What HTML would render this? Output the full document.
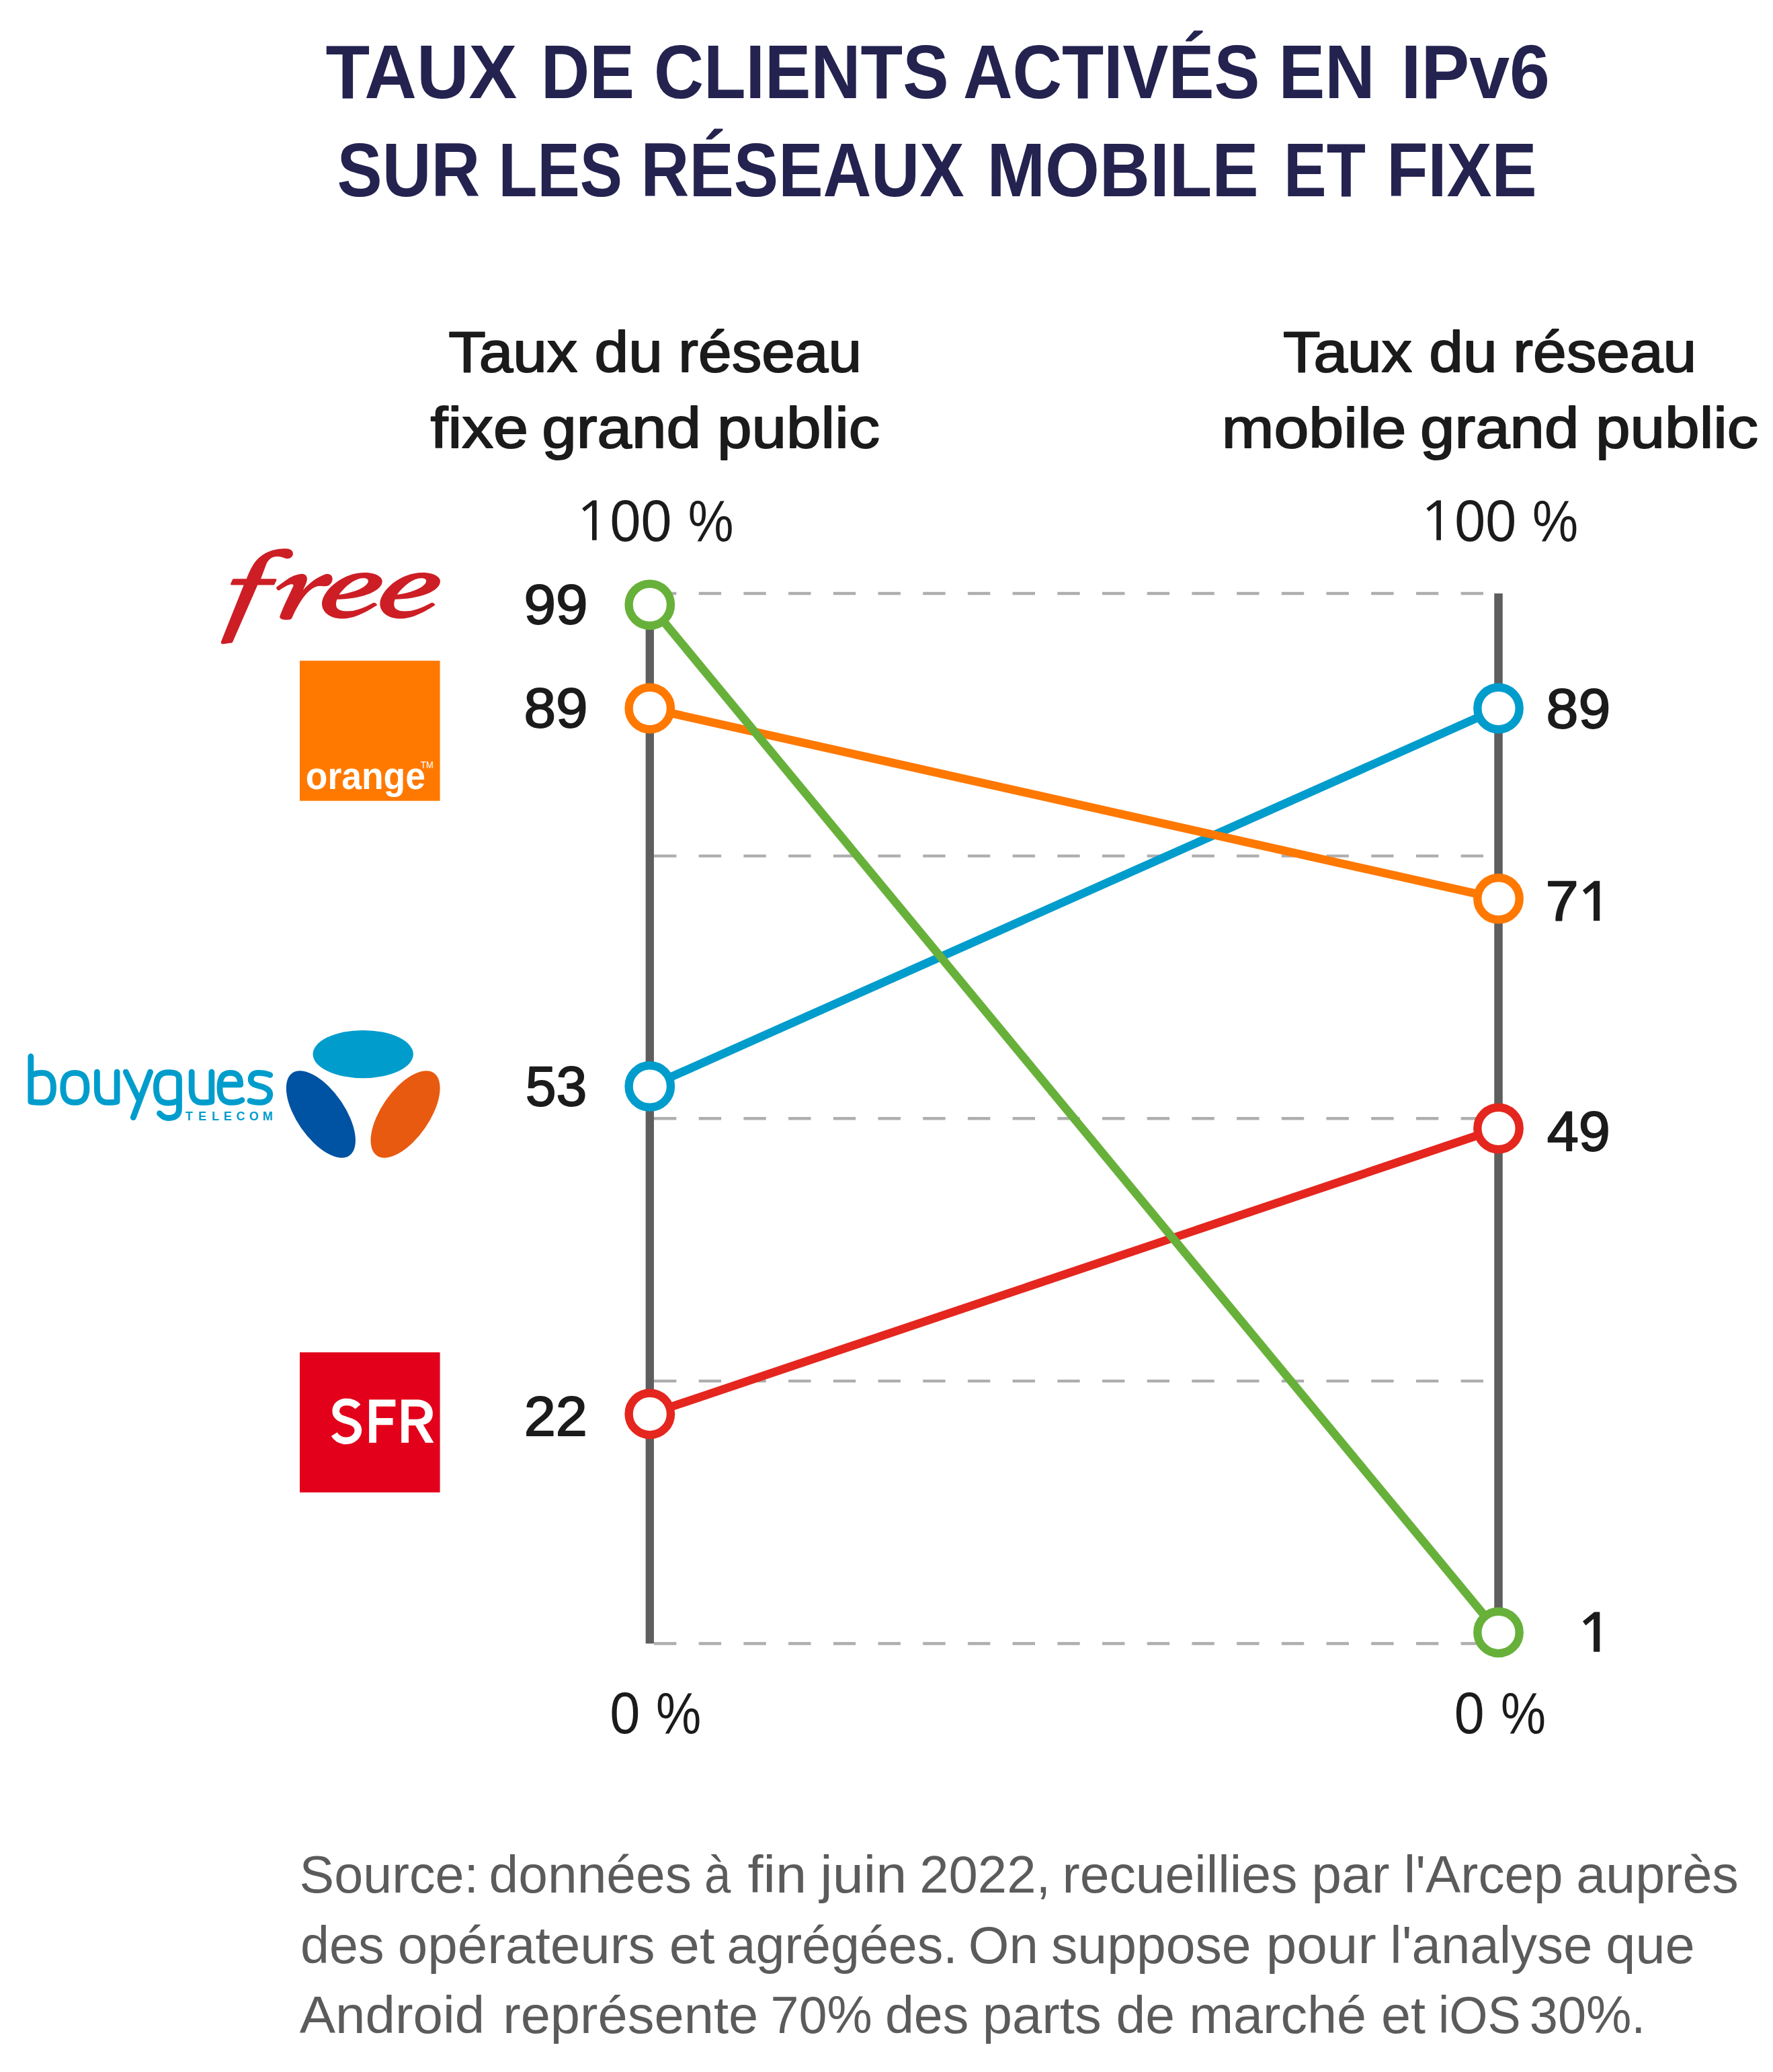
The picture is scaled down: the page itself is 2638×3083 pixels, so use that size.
<!DOCTYPE html>
<html><head><meta charset="utf-8"><style>
html,body{margin:0;padding:0;background:#fff;width:2638px;height:3083px;overflow:hidden;}
svg{display:block;font-family:"Liberation Sans",sans-serif;}
</style></head><body>
<svg width="2638" height="3083" viewBox="0 0 2638 3083">
<rect width="2638" height="3083" fill="#fff"/>
<line x1="973" y1="883.00" x2="2207" y2="883.00" stroke="#aeaeae" stroke-width="4.4" stroke-dasharray="33.4 33.3"/><line x1="973" y1="1273.62" x2="2207" y2="1273.62" stroke="#aeaeae" stroke-width="4.4" stroke-dasharray="33.4 33.3"/><line x1="973" y1="1664.25" x2="2207" y2="1664.25" stroke="#aeaeae" stroke-width="4.4" stroke-dasharray="33.4 33.3"/><line x1="973" y1="2054.88" x2="2207" y2="2054.88" stroke="#aeaeae" stroke-width="4.4" stroke-dasharray="33.4 33.3"/><line x1="973" y1="2445.50" x2="2207" y2="2445.50" stroke="#aeaeae" stroke-width="4.4" stroke-dasharray="33.4 33.3"/><line x1="966.8" y1="899.8" x2="966.8" y2="2445.50" stroke="#5e5e5e" stroke-width="12.3"/><line x1="2229.5" y1="883.00" x2="2229.5" y2="2445.50" stroke="#5e5e5e" stroke-width="12.5"/><line x1="966.8" y1="1616.45" x2="2229.5" y2="1054.00" stroke="#009ccc" stroke-width="12.5"/><line x1="966.8" y1="1054.00" x2="2229.5" y2="1337.20" stroke="#ff7800" stroke-width="12.5"/><line x1="966.8" y1="2103.90" x2="2229.5" y2="1679.00" stroke="#e4261e" stroke-width="12.5"/><line x1="966.8" y1="899.80" x2="2229.5" y2="2428.90" stroke="#67b13b" stroke-width="12.5"/><circle cx="966.8" cy="1616.45" r="31.2" fill="#fff" stroke="#009ccc" stroke-width="12.4"/><circle cx="2229.5" cy="1054.00" r="31.2" fill="#fff" stroke="#009ccc" stroke-width="12.4"/><circle cx="966.8" cy="1054.00" r="31.2" fill="#fff" stroke="#ff7800" stroke-width="12.4"/><circle cx="2229.5" cy="1337.20" r="31.2" fill="#fff" stroke="#ff7800" stroke-width="12.4"/><circle cx="966.8" cy="2103.90" r="31.2" fill="#fff" stroke="#e4261e" stroke-width="12.4"/><circle cx="2229.5" cy="1679.00" r="31.2" fill="#fff" stroke="#e4261e" stroke-width="12.4"/><circle cx="966.8" cy="899.80" r="31.2" fill="#fff" stroke="#67b13b" stroke-width="12.4"/><circle cx="2229.5" cy="2428.90" r="31.2" fill="#fff" stroke="#67b13b" stroke-width="12.4"/>
<rect x="446" y="983.1" width="208.6" height="208.5" fill="#ff7900"/><rect x="446" y="2012.2" width="208.6" height="208.4" fill="#e2001a"/><path transform="translate(320,810) scale(0.074811)" d="M120,1935 L570,810 L330,810 C310,810 305,790 312,775 L345,705 C352,690 362,685 375,685 L625,685 C700,500 780,330 900,245 C1030,140 1200,85 1400,85 C1500,85 1550,130 1550,185 C1550,240 1500,285 1440,285 C1390,285 1330,240 1240,240 C1130,240 1060,300 1020,390 L910,685 L1205,685 C1220,685 1225,700 1220,715 L1180,800 C1175,808 1170,810 1160,810 L845,810 L350,1940 C340,1955 330,1958 300,1962 L165,1982 C125,1985 110,1960 120,1935 Z" fill="#cd1e25"/><path transform="translate(405,845) scale(0.056402)" d="M110,510 C300,370 470,230 620,190 C700,165 780,155 830,165 C890,180 920,230 920,290 C920,370 880,440 815,585 C1000,380 1200,240 1400,170 C1500,140 1590,190 1590,290 C1590,400 1500,485 1410,485 C1340,485 1290,470 1220,480 C1000,520 780,760 520,1320 C500,1360 450,1370 350,1370 C250,1365 180,1330 205,1265 C300,1000 450,720 560,470 C565,440 530,425 480,435 C380,460 260,540 185,595 C150,600 105,560 110,510 Z" fill="#cd1e25"/><path transform="translate(470,845) scale(0.056402)" d="M1610,985 C1400,1120 1050,1340 700,1340 C350,1340 160,1150 160,950 C160,600 700,125 1280,125 C1600,125 1750,250 1750,350 C1750,620 1200,820 560,830 C525,900 520,1000 560,1060 C620,1140 760,1145 880,1140 C1100,1130 1300,1030 1515,920 C1540,910 1560,920 1580,935 L1600,955 C1615,970 1615,980 1610,985 Z M610,705 C800,450 1050,270 1250,270 C1350,270 1385,310 1380,350 C1370,500 1000,660 610,705 Z" fill="#cd1e25" fill-rule="evenodd"/><path transform="translate(556.3,845) scale(0.056402)" d="M1610,985 C1400,1120 1050,1340 700,1340 C350,1340 160,1150 160,950 C160,600 700,125 1280,125 C1600,125 1750,250 1750,350 C1750,620 1200,820 560,830 C525,900 520,1000 560,1060 C620,1140 760,1145 880,1140 C1100,1130 1300,1030 1515,920 C1540,910 1560,920 1580,935 L1600,955 C1615,970 1615,980 1610,985 Z M610,705 C800,450 1050,270 1250,270 C1350,270 1385,310 1380,350 C1370,500 1000,660 610,705 Z" fill="#cd1e25" fill-rule="evenodd"/><ellipse cx="540.2" cy="1568.6" rx="74.7" ry="35.7" fill="#009dcc"/><ellipse cx="0" cy="0" rx="74.6" ry="35.7" transform="translate(477.4,1658) rotate(55.4)" fill="#0052a3"/><ellipse cx="0" cy="0" rx="74.6" ry="35.7" transform="translate(603.1,1658) rotate(-55.4)" fill="#e85a10"/><path transform="translate(30,1550) scale(0.219974)" d="M72,100 V405 M72,232 C95,215 125,211 150,211 C205,211 225,255 225,311 C225,370 205,411 150,411 C115,411 85,408 72,405 M370,211 C310,211 290,245 290,311 C290,377 310,411 370,411 C430,411 450,377 450,311 C450,245 430,211 370,211 Z M520,205 V320 C520,385 545,411 595,411 C625,411 645,408 655,405 M655,205 V405 M715,205 L805,395 M880,205 L765,512 M1075,390 C1060,405 1030,414 1000,414 C945,414 920,380 920,310 C920,250 940,208 1000,208 C1040,208 1075,212 1075,250 V450 C1075,495 1050,516 1000,516 C975,516 960,505 943,485 M1160,205 V320 C1160,385 1185,411 1235,411 C1265,411 1285,408 1295,405 M1295,205 V405 M1352,290 H1490 C1490,235 1465,211 1420,211 C1370,211 1350,245 1350,311 C1350,377 1370,411 1430,411 C1460,411 1485,405 1500,395 M1690,225 C1660,213 1640,211 1610,211 C1575,211 1560,230 1560,255 C1560,280 1580,290 1620,300 C1670,312 1690,330 1690,355 C1690,390 1665,411 1620,411 C1595,411 1575,408 1555,400" fill="none" stroke="#009dcc" stroke-width="40" stroke-linecap="round" stroke-linejoin="round"/><g transform="translate(430,2000) scale(0.135364)"><path d="M880,610 H1170 V685 H960 V813 H1142 V888 H960 V1085 H880 Z" fill="#fff"/><path d="M1235,610 H1400 C1510,610 1580,670 1580,760 C1580,830 1540,875 1475,885 L1592,1085 H1500 L1390,893 H1315 V1085 H1235 Z M1315,685 H1405 C1460,685 1495,710 1495,755 C1495,800 1460,825 1405,825 H1315 Z" fill="#fff" fill-rule="evenodd"/><path d="M757,688 C720,645 680,635 630,635 C560,635 515,680 515,735 C515,800 570,820 640,840 C720,862 760,890 760,945 C760,1010 700,1062 630,1062 C570,1062 525,1035 497,990" fill="none" stroke="#fff" stroke-width="78"/></g>
<text transform="translate(484.62,146.00) scale(0.9538,1)" font-weight="bold" font-size="112.75" fill="#24224f">TAUX</text><text transform="translate(805.03,146.00) scale(0.8859,1)" font-weight="bold" font-size="112.75" fill="#24224f">DE</text><text transform="translate(972.92,146.00) scale(0.9096,1)" font-weight="bold" font-size="112.75" fill="#24224f">CLIENTS</text><text transform="translate(1432.90,146.00) scale(0.9035,1)" font-weight="bold" font-size="112.75" fill="#24224f">ACTIVÉS</text><text transform="translate(1902.45,146.00) scale(0.9143,1)" font-weight="bold" font-size="112.75" fill="#24224f">EN</text><text transform="translate(2084.49,146.00) scale(0.9545,1)" font-weight="bold" font-size="112.75" fill="#24224f">IPv6</text><text transform="translate(501.48,291.80) scale(0.8935,1)" font-weight="bold" font-size="112.75" fill="#24224f">SUR</text><text transform="translate(741.48,291.80) scale(0.8411,1)" font-weight="bold" font-size="112.75" fill="#24224f">LES</text><text transform="translate(953.57,291.80) scale(0.8825,1)" font-weight="bold" font-size="112.75" fill="#24224f">RÉSEAUX</text><text transform="translate(1468.43,291.80) scale(0.9219,1)" font-weight="bold" font-size="112.75" fill="#24224f">MOBILE</text><text transform="translate(1910.01,291.80) scale(0.8462,1)" font-weight="bold" font-size="112.75" fill="#24224f">ET</text><text transform="translate(2063.19,291.80) scale(0.8918,1)" font-weight="bold" font-size="112.75" fill="#24224f">FIXE</text><text transform="translate(667.23,553.15) scale(1.0782,1)" font-weight="normal" font-size="84.35" fill="#1b1b1b" stroke="#1b1b1b" stroke-width="1.9" stroke-linejoin="round">Taux</text><text transform="translate(884.45,553.15) scale(1.0807,1)" font-weight="normal" font-size="84.35" fill="#1b1b1b" stroke="#1b1b1b" stroke-width="1.9" stroke-linejoin="round">du</text><text transform="translate(1009.35,553.15) scale(1.0575,1)" font-weight="normal" font-size="84.35" fill="#1b1b1b" stroke="#1b1b1b" stroke-width="1.9" stroke-linejoin="round">réseau</text><text transform="translate(640.45,665.75) scale(1.1089,1)" font-weight="normal" font-size="84.35" fill="#1b1b1b" stroke="#1b1b1b" stroke-width="1.9" stroke-linejoin="round">fixe</text><text transform="translate(806.15,665.75) scale(1.0981,1)" font-weight="normal" font-size="84.35" fill="#1b1b1b" stroke="#1b1b1b" stroke-width="1.9" stroke-linejoin="round">grand</text><text transform="translate(1066.94,665.75) scale(1.0989,1)" font-weight="normal" font-size="84.35" fill="#1b1b1b" stroke="#1b1b1b" stroke-width="1.9" stroke-linejoin="round">public</text><text transform="translate(1908.93,553.15) scale(1.0784,1)" font-weight="normal" font-size="84.35" fill="#1b1b1b" stroke="#1b1b1b" stroke-width="1.9" stroke-linejoin="round">Taux</text><text transform="translate(2126.36,553.15) scale(1.0816,1)" font-weight="normal" font-size="84.35" fill="#1b1b1b" stroke="#1b1b1b" stroke-width="1.9" stroke-linejoin="round">du</text><text transform="translate(2251.34,553.15) scale(1.0579,1)" font-weight="normal" font-size="84.35" fill="#1b1b1b" stroke="#1b1b1b" stroke-width="1.9" stroke-linejoin="round">réseau</text><text transform="translate(1817.79,665.75) scale(1.1056,1)" font-weight="normal" font-size="84.35" fill="#1b1b1b" stroke="#1b1b1b" stroke-width="1.9" stroke-linejoin="round">mobile</text><text transform="translate(2113.00,665.75) scale(1.0953,1)" font-weight="normal" font-size="84.35" fill="#1b1b1b" stroke="#1b1b1b" stroke-width="1.9" stroke-linejoin="round">grand</text><text transform="translate(2373.90,665.75) scale(1.0996,1)" font-weight="normal" font-size="84.35" fill="#1b1b1b" stroke="#1b1b1b" stroke-width="1.9" stroke-linejoin="round">public</text><text transform="translate(907.50,804.50) scale(0.9415,1)" font-weight="normal" font-size="87.83" fill="#1b1b1b">00</text><text transform="translate(1023.76,804.50) scale(0.8670,1)" font-weight="normal" font-size="87.83" fill="#1b1b1b">%</text><text transform="translate(2164.32,804.50) scale(0.9400,1)" font-weight="normal" font-size="87.83" fill="#1b1b1b">00</text><text transform="translate(2280.03,804.50) scale(0.8718,1)" font-weight="normal" font-size="87.83" fill="#1b1b1b">%</text><text transform="translate(907.23,2578.80) scale(0.9240,1)" font-weight="normal" font-size="87.83" fill="#1b1b1b">0</text><text transform="translate(976.10,2578.80) scale(0.8610,1)" font-weight="normal" font-size="87.83" fill="#1b1b1b">%</text><text transform="translate(2163.71,2578.80) scale(0.9166,1)" font-weight="normal" font-size="87.83" fill="#1b1b1b">0</text><text transform="translate(2232.95,2578.80) scale(0.8585,1)" font-weight="normal" font-size="87.83" fill="#1b1b1b">%</text><text transform="translate(779.40,928.05) scale(1.0153,1)" font-weight="normal" font-size="84.20" fill="#1b1b1b" stroke="#1b1b1b" stroke-width="1.9" stroke-linejoin="round">99</text><text transform="translate(779.40,1082.05) scale(1.0153,1)" font-weight="normal" font-size="84.20" fill="#1b1b1b" stroke="#1b1b1b" stroke-width="1.9" stroke-linejoin="round">89</text><text transform="translate(781.75,1644.55) scale(0.9789,1)" font-weight="normal" font-size="84.20" fill="#1b1b1b" stroke="#1b1b1b" stroke-width="1.9" stroke-linejoin="round">53</text><text transform="translate(779.71,2136.35) scale(1.0062,1)" font-weight="normal" font-size="84.20" fill="#1b1b1b" stroke="#1b1b1b" stroke-width="1.9" stroke-linejoin="round">22</text><text transform="translate(2300.58,1083.05) scale(1.0223,1)" font-weight="normal" font-size="84.20" fill="#1b1b1b" stroke="#1b1b1b" stroke-width="1.9" stroke-linejoin="round">89</text><text transform="translate(2299.42,1369.05) scale(1.0519,1)" font-weight="normal" font-size="84.20" fill="#1b1b1b" stroke="#1b1b1b" stroke-width="1.9" stroke-linejoin="round">7</text><text transform="translate(2301.66,1712.05) scale(1.0058,1)" font-weight="normal" font-size="84.20" fill="#1b1b1b" stroke="#1b1b1b" stroke-width="1.9" stroke-linejoin="round">49</text><text transform="translate(445.62,2816.20) scale(0.9882,1)" font-weight="normal" font-size="78.26" fill="#5b5b5b">Source:</text><text transform="translate(727.52,2816.20) scale(1.0045,1)" font-weight="normal" font-size="78.26" fill="#5b5b5b">données</text><text transform="translate(1047.91,2816.20) scale(0.9039,1)" font-weight="normal" font-size="78.26" fill="#5b5b5b">à</text><text transform="translate(1112.51,2816.20) scale(1.0615,1)" font-weight="normal" font-size="78.26" fill="#5b5b5b">fin</text><text transform="translate(1220.36,2816.20) scale(1.0577,1)" font-weight="normal" font-size="78.26" fill="#5b5b5b">juin</text><text transform="translate(1368.28,2816.20) scale(0.9950,1)" font-weight="normal" font-size="78.26" fill="#5b5b5b">2022,</text><text transform="translate(1580.47,2816.20) scale(1.0058,1)" font-weight="normal" font-size="78.26" fill="#5b5b5b">recueillies</text><text transform="translate(1951.18,2816.20) scale(1.0294,1)" font-weight="normal" font-size="78.26" fill="#5b5b5b">par</text><text transform="translate(2088.75,2816.20) scale(1.0008,1)" font-weight="normal" font-size="78.26" fill="#5b5b5b">l&#39;Arcep</text><text transform="translate(2345.27,2816.20) scale(1.0096,1)" font-weight="normal" font-size="78.26" fill="#5b5b5b">auprès</text><text transform="translate(447.11,2921.40) scale(0.9857,1)" font-weight="normal" font-size="78.26" fill="#5b5b5b">des</text><text transform="translate(591.76,2921.40) scale(1.0232,1)" font-weight="normal" font-size="78.26" fill="#5b5b5b">opérateurs</text><text transform="translate(995.77,2921.40) scale(1.0365,1)" font-weight="normal" font-size="78.26" fill="#5b5b5b">et</text><text transform="translate(1081.56,2921.40) scale(0.9861,1)" font-weight="normal" font-size="78.26" fill="#5b5b5b">agrégées.</text><text transform="translate(1440.84,2921.40) scale(0.9962,1)" font-weight="normal" font-size="78.26" fill="#5b5b5b">On</text><text transform="translate(1564.00,2921.40) scale(1.0060,1)" font-weight="normal" font-size="78.26" fill="#5b5b5b">suppose</text><text transform="translate(1883.72,2921.40) scale(1.0469,1)" font-weight="normal" font-size="78.26" fill="#5b5b5b">pour</text><text transform="translate(2068.35,2921.40) scale(0.9962,1)" font-weight="normal" font-size="78.26" fill="#5b5b5b">l&#39;analyse</text><text transform="translate(2389.30,2921.40) scale(1.0144,1)" font-weight="normal" font-size="78.26" fill="#5b5b5b">que</text><text transform="translate(445.70,3024.50) scale(1.0213,1)" font-weight="normal" font-size="78.26" fill="#5b5b5b">Android</text><text transform="translate(748.16,3024.50) scale(1.0158,1)" font-weight="normal" font-size="78.26" fill="#5b5b5b">représente</text><text transform="translate(1146.58,3024.50) scale(0.9655,1)" font-weight="normal" font-size="78.26" fill="#5b5b5b">70%</text><text transform="translate(1316.89,3024.50) scale(0.9861,1)" font-weight="normal" font-size="78.26" fill="#5b5b5b">des</text><text transform="translate(1461.83,3024.50) scale(1.0173,1)" font-weight="normal" font-size="78.26" fill="#5b5b5b">parts</text><text transform="translate(1660.59,3024.50) scale(1.0041,1)" font-weight="normal" font-size="78.26" fill="#5b5b5b">de</text><text transform="translate(1769.16,3024.50) scale(1.0111,1)" font-weight="normal" font-size="78.26" fill="#5b5b5b">marché</text><text transform="translate(2054.88,3024.50) scale(1.0111,1)" font-weight="normal" font-size="78.26" fill="#5b5b5b">et</text><text transform="translate(2139.94,3024.50) scale(0.9404,1)" font-weight="normal" font-size="78.26" fill="#5b5b5b">iOS</text><text transform="translate(2275.79,3024.50) scale(0.9675,1)" font-weight="normal" font-size="78.26" fill="#5b5b5b">30%.</text><text transform="translate(454.76,1174.15) scale(0.9306,1)" font-weight="bold" font-size="57.45" fill="#ffffff">orange</text><path d="M881.72,744.59 L887.69,744.59 L887.69,803.78 L881.00,803.78 L881.00,752.00 L869.60,761.06 L866.15,756.54 Z" fill="#1b1b1b"/><path d="M2137.97,744.59 L2143.94,744.59 L2143.94,803.78 L2137.25,803.78 L2137.25,752.00 L2125.85,761.06 L2122.40,756.54 Z" fill="#1b1b1b"/><path d="M2372.09,1310.80 L2380.24,1310.80 L2380.24,1370.00 L2371.01,1370.00 L2371.01,1321.13 L2359.42,1330.90 L2354.90,1324.75 Z" fill="#1b1b1b"/><path d="M2372.15,2398.50 L2380.30,2398.50 L2380.30,2457.70 L2371.07,2457.70 L2371.07,2408.83 L2359.48,2418.60 L2354.96,2412.45 Z" fill="#1b1b1b"/><text x="626.0" y="1143.4" font-size="13.8" font-weight="normal" fill="#fff" transform="translate(626,1143.4) scale(0.95,1) translate(-626,-1143.4)">TM</text><text x="275.85" y="1666.5" font-size="18" font-weight="bold" fill="#009dcc">T</text><text x="294.96" y="1666.5" font-size="18" font-weight="bold" fill="#009dcc">E</text><text x="314.94" y="1666.5" font-size="18" font-weight="bold" fill="#009dcc">L</text><text x="332.86" y="1666.5" font-size="18" font-weight="bold" fill="#009dcc">E</text><text x="351.42" y="1666.5" font-size="18" font-weight="bold" fill="#009dcc">C</text><text x="370.77" y="1666.5" font-size="18" font-weight="bold" fill="#009dcc">O</text><text x="390.74" y="1666.5" font-size="18" font-weight="bold" fill="#009dcc">M</text>
</svg>
</body></html>
